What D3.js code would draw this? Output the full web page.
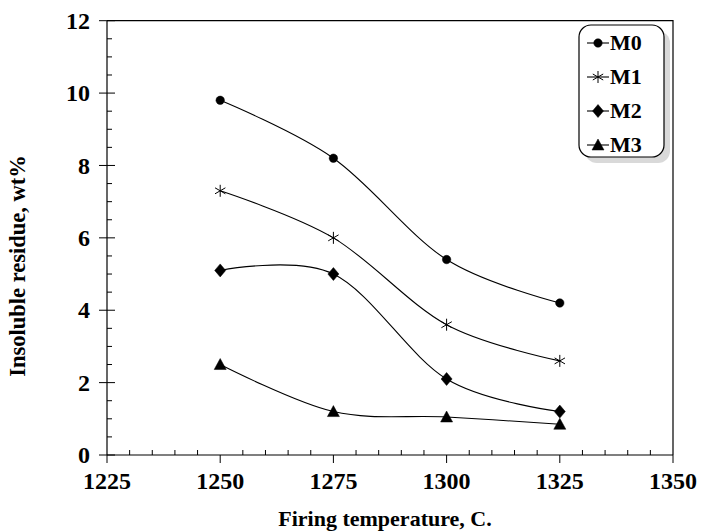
<!DOCTYPE html>
<html>
<head>
<meta charset="utf-8">
<script src="https://cdn.jsdelivr.net/npm/d3@7"></script>
<style>
  body { margin: 0; background: #fff; }
  text { font-family: "Liberation Serif", "Times New Roman", serif; font-weight: bold; fill: #000; }
</style>
</head>
<body>
<div id="chart_div"></div>
<script>
const temperatures = [1250, 1275, 1300, 1325];
const seriesNames = ["M0", "M1", "M2", "M3"];
const m0 = [9.8, 8.2, 5.4, 4.2];
const m1 = [7.3, 6.0, 3.6, 2.6];
const m2 = [5.1, 5.0, 2.1, 1.2];
const m3 = [2.5, 1.2, 1.05, 0.85];
const xTicks = [1225, 1250, 1275, 1300, 1325, 1350];
const yTicks = [0, 2, 4, 6, 8, 10, 12];

const series = [m0, m1, m2, m3];
const markers = ["circle", "star", "diamond", "triangle"];

const width = 702,
  height = 532;

const svg = d3
  .select("#chart_div")
  .append("svg")
  .attr("width", width)
  .attr("height", height);

const x = d3.scaleLinear().domain([1225, 1350]).range([107, 673]);
const y = d3.scaleLinear().domain([0, 12]).range([455, 20.7]);

// frame (top and right)
svg
  .append("path")
  .attr("d", `M${x(1225)},${y(12)}H${x(1350)}V${y(0)}`)
  .attr("fill", "none")
  .attr("stroke", "#000")
  .attr("stroke-width", 1.2);

// y axis, major ticks cross the line, minor ticks inward
const yAxis = svg.append("g").attr("transform", `translate(${x(1225)},0)`);
yAxis
  .append("line")
  .attr("y1", y(0))
  .attr("y2", y(12))
  .attr("stroke", "#000")
  .attr("stroke-width", 1.2);
yAxis
  .selectAll(".ymin")
  .data(d3.range(0, 12.01, 0.5).filter((d) => d % 2 !== 0))
  .enter()
  .append("line")
  .attr("x1", 0)
  .attr("x2", 5)
  .attr("y1", (d) => y(d))
  .attr("y2", (d) => y(d))
  .attr("stroke", "#000");
yAxis
  .selectAll(".ymaj")
  .data(yTicks)
  .enter()
  .append("line")
  .attr("x1", -8)
  .attr("x2", 8)
  .attr("y1", (d) => y(d))
  .attr("y2", (d) => y(d))
  .attr("stroke", "#000");
yAxis
  .selectAll(".ylab")
  .data(yTicks)
  .enter()
  .append("text")
  .attr("x", -17)
  .attr("y", (d) => y(d))
  .attr("dy", "0.34em")
  .attr("text-anchor", "end")
  .style("font-size", "24px")
  .text((d) => d);

// x axis, major ticks outward, minor ticks inward
const xAxis = svg.append("g").attr("transform", `translate(0,${y(0)})`);
xAxis
  .append("line")
  .attr("x1", x(1225))
  .attr("x2", x(1350))
  .attr("stroke", "#000")
  .attr("stroke-width", 1.2);
xAxis
  .selectAll(".xmin")
  .data(d3.range(1230, 1350, 5).filter((d) => d % 25 !== 0))
  .enter()
  .append("line")
  .attr("x1", (d) => x(d))
  .attr("x2", (d) => x(d))
  .attr("y1", 0)
  .attr("y2", -5)
  .attr("stroke", "#000");
xAxis
  .selectAll(".xmaj")
  .data(xTicks)
  .enter()
  .append("line")
  .attr("x1", (d) => x(d))
  .attr("x2", (d) => x(d))
  .attr("y1", 0)
  .attr("y2", 8)
  .attr("stroke", "#000");
xAxis
  .selectAll(".xlab")
  .data(xTicks)
  .enter()
  .append("text")
  .attr("x", (d) => x(d))
  .attr("y", 34)
  .attr("text-anchor", "middle")
  .style("font-size", "24px")
  .text((d) => d);

// axis titles
svg
  .append("text")
  .attr("x", 385)
  .attr("y", 526)
  .attr("text-anchor", "middle")
  .style("font-size", "22px")
  .text("Firing temperature, C.");

svg
  .append("text")
  .attr("transform", "translate(25,266) rotate(-90)")
  .attr("text-anchor", "middle")
  .style("font-size", "22.5px")
  .text("Insoluble residue, wt%");

function markerPath(type) {
  if (type === "circle") return d3.symbol(d3.symbolCircle, 56)();
  if (type === "diamond") return "M0,-6.5L5.5,0L0,6.5L-5.5,0Z";
  if (type === "triangle") return "M0,-6L6,5L-6,5Z";
  // six-armed star
  const r = 6;
  let p = `M0,${-r}L0,${r}`;
  [30, 150].forEach(function (a) {
    const dx = r * Math.cos((a * Math.PI) / 180),
      dy = r * Math.sin((a * Math.PI) / 180);
    p += `M${-dx},${-dy}L${dx},${dy}`;
  });
  return p;
}

function drawMarker(g, type) {
  g.append("path")
    .attr("d", markerPath(type))
    .attr("fill", type === "star" ? "none" : "#000")
    .attr("stroke", "#000")
    .attr("stroke-width", type === "star" ? 1 : 0.5);
}

const line = d3
  .line()
  .x((d, i) => x(temperatures[i]))
  .y((d) => y(d))
  .curve(d3.curveCardinal.tension(0));

series.forEach(function (values, s) {
  svg
    .append("path")
    .attr("d", line(values))
    .attr("fill", "none")
    .attr("stroke", "#000")
    .attr("stroke-width", 1.1);

  values.forEach(function (v, i) {
    const g = svg
      .append("g")
      .attr("transform", `translate(${x(temperatures[i])},${y(v)})`);
    drawMarker(g, markers[s]);
  });
});

// legend
const legend = svg.append("g").attr("transform", "translate(579,25)");
legend
  .append("rect")
  .attr("x", 6)
  .attr("y", 6)
  .attr("width", 85)
  .attr("height", 132)
  .attr("rx", 12)
  .attr("fill", "#d9d9d9");
legend
  .append("rect")
  .attr("width", 85)
  .attr("height", 132)
  .attr("rx", 12)
  .attr("fill", "#fff")
  .attr("stroke", "#000")
  .attr("stroke-width", 1.2);

const items = legend
  .selectAll(".pairs")
  .data(seriesNames)
  .enter()
  .append("g")
  .attr("class", "pairs")
  .attr("transform", (d, i) => `translate(0,${18 + i * 34})`);

items
  .append("line")
  .attr("x1", 8)
  .attr("x2", 30)
  .attr("stroke", "#000")
  .attr("stroke-width", 1.1);
items.each(function (d, i) {
  drawMarker(d3.select(this).append("g").attr("transform", "translate(19,0)"), markers[i]);
});
items
  .append("text")
  .attr("x", 31)
  .attr("dy", "0.34em")
  .style("font-size", "22px")
  .text((d) => d);
</script>
</body>
</html>
